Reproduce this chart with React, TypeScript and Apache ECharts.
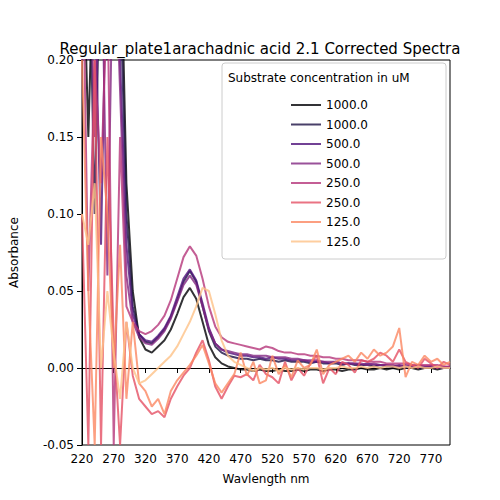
import React, { useEffect, useRef } from 'react';
import * as echarts from 'echarts';

const wavelengths = Array.from({ length: 59 }, (_, i) => 220 + i * 10);

const seriesNames = ['1000.0', '1000.0', '500.0', '500.0', '250.0', '250.0', '125.0', '125.0'];
const seriesColors = ['#000004', '#1c1044', '#4f127b', '#812581', '#b5367a', '#e55064', '#fb8761', '#fec287'];

const conc1000a = [0.3, 0.15, 0.3, 0.25, 0.3, 0.3, 0.3, 0.12, 0.05, 0.02, 0.012, 0.01, 0.014, 0.018, 0.025, 0.035, 0.046, 0.052, 0.045, 0.03, 0.015, 0.007, 0.003, 0.001, 0.0, -0.001, -0.001, -0.002, -0.001, -0.002, -0.002, -0.001, -0.002, -0.002, -0.001, -0.002, -0.001, -0.001, -0.002, -0.001, -0.001, -0.002, -0.001, -0.001, 0.0, -0.001, -0.001, 0.0, -0.001, 0.0, -0.001, 0.0, 0.0, -0.001, 0.0, 0.0, -0.001, 0.0, 0.0];
const conc1000b = [0.25, 0.3, 0.1, 0.3, 0.2, 0.3, 0.25, 0.1, 0.04, 0.022, 0.017, 0.016, 0.02, 0.025, 0.033, 0.044, 0.056, 0.063, 0.056, 0.04, 0.024, 0.014, 0.01, 0.008, 0.007, 0.006, 0.006, 0.005, 0.006, 0.005, 0.005, 0.004, 0.005, 0.004, 0.004, 0.004, 0.003, 0.004, 0.003, 0.003, 0.003, 0.002, 0.003, 0.002, 0.002, 0.002, 0.001, 0.002, 0.001, 0.001, 0.001, 0.0, 0.001, 0.0, 0.0, 0.001, 0.0, 0.0, 0.0];
const conc500a = [0.3, 0.2, 0.25, 0.08, 0.3, 0.25, 0.2, 0.08, 0.035, 0.022, 0.018, 0.017, 0.021, 0.026, 0.034, 0.046, 0.058, 0.064, 0.057, 0.042, 0.026, 0.016, 0.012, 0.01, 0.009, 0.008, 0.008, 0.007, 0.007, 0.006, 0.007, 0.006, 0.006, 0.005, 0.005, 0.005, 0.004, 0.004, 0.004, 0.003, 0.004, 0.003, 0.003, 0.003, 0.002, 0.003, 0.002, 0.002, 0.002, 0.001, 0.002, 0.001, 0.001, 0.002, 0.001, 0.001, 0.001, 0.0, 0.001];
const conc500b = [0.2, 0.3, 0.15, 0.3, 0.06, 0.3, 0.18, 0.06, 0.03, 0.02, 0.016, 0.015, 0.019, 0.024, 0.032, 0.043, 0.054, 0.06, 0.054, 0.04, 0.025, 0.016, 0.012, 0.011, 0.01, 0.009, 0.009, 0.008, 0.008, 0.008, 0.007, 0.007, 0.007, 0.006, 0.006, 0.005, 0.005, 0.005, 0.004, 0.004, 0.004, 0.003, 0.003, 0.003, 0.003, 0.002, 0.003, 0.002, 0.002, 0.002, 0.001, 0.002, 0.001, 0.001, 0.001, 0.001, 0.0, 0.001, 0.0];
const conc250a = [0.3, 0.05, 0.2, 0.12, 0.25, -0.05, 0.15, 0.04, 0.03, 0.024, 0.022, 0.024, 0.028, 0.034, 0.044, 0.058, 0.072, 0.079, 0.073, 0.058, 0.04, 0.027, 0.02, 0.017, 0.016, 0.015, 0.014, 0.013, 0.012, 0.014, 0.013, 0.011, 0.01, 0.01, 0.009, 0.009, 0.008, 0.008, 0.007, 0.007, 0.006, 0.006, 0.005, 0.005, 0.005, 0.004, 0.004, 0.004, 0.003, 0.003, 0.003, 0.003, 0.002, 0.002, 0.002, 0.002, 0.002, 0.001, 0.001];
const conc250b = [0.1, -0.05, 0.2, -0.05, 0.15, 0.02, -0.05, 0.03, -0.005, -0.02, -0.025, -0.03, -0.028, -0.032, -0.02, -0.012, -0.005, 0.0, 0.01, 0.018, 0.005, -0.012, -0.02, -0.012, -0.005, -0.006, -0.004, -0.008, 0.002, -0.004, -0.006, -0.01, 0.004, -0.008, 0.0, -0.005, 0.003, 0.008, -0.01, 0.0, -0.004, 0.004, 0.002, -0.003, 0.005, 0.004, 0.006, 0.01, 0.008, 0.004, 0.012, 0.004, 0.002, 0.0, 0.006, 0.003, 0.0, 0.004, 0.002];
const conc125a = [0.2, 0.05, -0.05, 0.15, 0.1, 0.0, 0.08, -0.02, 0.03, -0.01, -0.015, -0.025, -0.02, -0.03, -0.015, -0.008, -0.003, 0.002, 0.008, 0.015, 0.003, -0.01, -0.016, -0.01, -0.004, 0.01, -0.005, 0.004, -0.01, -0.008, 0.008, -0.004, 0.002, -0.006, 0.005, 0.0, 0.002, 0.012, -0.004, 0.002, 0.004, 0.006, 0.008, 0.004, 0.01, 0.006, 0.012, 0.008, 0.01, 0.014, 0.026, -0.006, 0.004, 0.002, 0.008, 0.004, 0.006, 0.002, 0.004];
const conc125b = [0.1, 0.08, 0.12, 0.0, 0.05, 0.01, -0.02, 0.03, 0.0, -0.01, -0.008, -0.004, 0.0, 0.004, 0.008, 0.014, 0.022, 0.03, 0.04, 0.052, 0.05, 0.035, 0.018, 0.008, 0.004, 0.002, 0.0, -0.002, 0.0, -0.001, 0.0, -0.002, 0.0, -0.001, 0.0, -0.001, 0.0, 0.0, -0.001, 0.0, 0.0, 0.001, 0.0, 0.0, 0.001, 0.0, 0.001, 0.0, 0.001, 0.001, 0.0, 0.001, 0.0, 0.001, 0.0, 0.0, 0.001, 0.0, 0.0];

const seriesValues = [conc1000a, conc1000b, conc500a, conc500b, conc250a, conc250b, conc125a, conc125b];

export default function App() {
  const chartRef = useRef<HTMLDivElement>(null);

  useEffect(() => {
    if (!chartRef.current) return;
    const chart = echarts.init(chartRef.current, null, { renderer: 'svg' });

    const option: echarts.EChartsOption = {
      animation: false,
      backgroundColor: '#fff',
      textStyle: { fontFamily: 'DejaVu Sans' },
      title: {
        text: 'Regular_plate1arachadnic acid 2.1 Corrected Spectra',
        left: 255,
        top: 36,
        textAlign: 'center',
        textStyle: { fontSize: 15, fontWeight: 'normal', color: '#000' },
      },
      legend: {
        orient: 'vertical',
        left: 286,
        top: 94,
        itemWidth: 30,
        itemHeight: 2,
        itemGap: 7.5,
        icon: 'rect',
        textStyle: { fontSize: 12, color: '#000' },
        data: seriesNames.map((n, i) => ({ name: n + '#' + i })),
        formatter: (n: string) => n.split('#')[0],
      },
      graphic: [
        {
          type: 'rect',
          shape: { x: 222, y: 63, width: 224, height: 196, r: 3 },
          style: { fill: 'rgba(255,255,255,0.8)', stroke: '#ccc', lineWidth: 1 },
          z: 0,
        },
        {
          type: 'text',
          x: 228,
          y: 72,
          style: { text: 'Substrate concentration in uM', fontSize: 12, fill: '#000', fontFamily: 'DejaVu Sans' },
          z: 10,
        },
      ],
      grid: { left: 62, right: 50, top: 60, bottom: 55, show: true, borderColor: '#000', borderWidth: 1, backgroundColor: 'transparent' },
      xAxis: {
        type: 'value',
        min: 220,
        max: 800,
        interval: 50,
        name: 'Wavlength nm',
        nameLocation: 'middle',
        nameGap: 28,
        nameTextStyle: { fontSize: 12, color: '#000' },
        axisLine: { lineStyle: { color: '#000' } },
        axisTick: { lineStyle: { color: '#000' } },
        axisLabel: { color: '#000', fontSize: 12, showMaxLabel: false },
        splitLine: { show: false },
      },
      yAxis: {
        type: 'value',
        min: -0.05,
        max: 0.2,
        interval: 0.05,
        name: 'Absorbance',
        nameLocation: 'middle',
        nameGap: 62,
        nameTextStyle: { fontSize: 12, color: '#000' },
        axisLine: { show: true, lineStyle: { color: '#000' } },
        axisTick: { show: true, lineStyle: { color: '#000' } },
        axisLabel: { color: '#000', fontSize: 12, formatter: (v: number) => v.toFixed(2) },
        splitLine: { show: false },
      },
      series: seriesValues.map((vals, i) => ({
        name: seriesNames[i] + '#' + i,
        type: 'line',
        data: wavelengths.map((w, j) => [w, vals[j]]),
        showSymbol: false,
        clip: true,
        color: seriesColors[i],
        lineStyle: { width: 2, opacity: 0.8, color: seriesColors[i] },
        itemStyle: { color: seriesColors[i], opacity: 0.8 },
        z: 2,
      })),
    };

    chart.setOption(option);
    return () => chart.dispose();
  }, []);

  return (
    <div
      ref={chartRef}
      style={{ position: 'fixed', left: 0, top: 0, width: 500, height: 500 }}
    />
  );
}
